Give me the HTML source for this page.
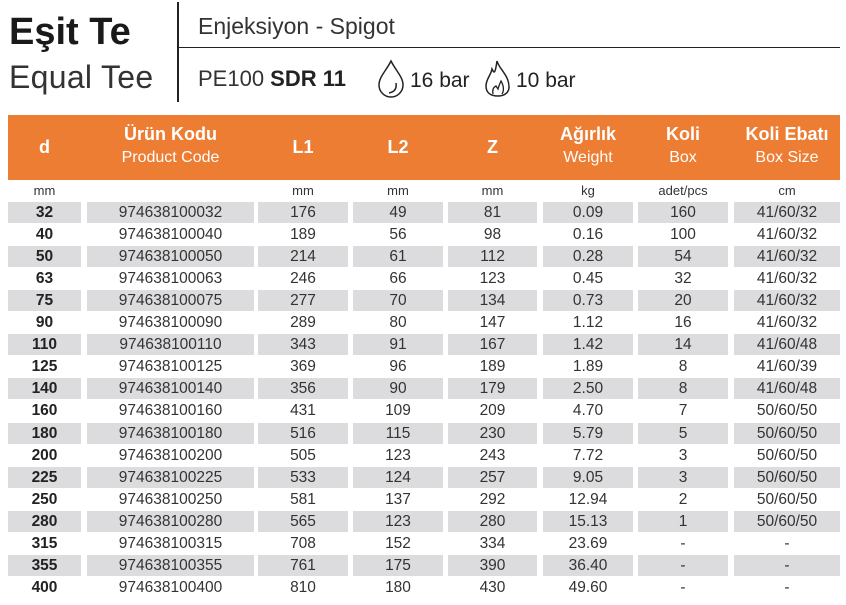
<!DOCTYPE html>
<html><head><meta charset="utf-8"><style>
*{margin:0;padding:0;box-sizing:border-box}
body{width:846px;height:605px;background:#fff;position:relative;overflow:hidden;font-family:"Liberation Sans",sans-serif;color:#222}
.a{position:absolute;white-space:nowrap}
.hdr{position:absolute;left:8px;top:115px;width:832px;height:65px;background:#ED7D33}
.h{position:absolute;text-align:center;color:#fff}
.h b{display:block;font-size:18px;line-height:20px}
.h span{display:block;font-size:16px;line-height:28px}
.row{position:absolute;left:0;width:846px;height:21px}
.row div{position:absolute;top:0;height:21px;line-height:22px;text-align:center;font-size:15.5px;color:#333}
.g div{background:#DCDCDE}
.c0{left:8px;width:73px;font-weight:bold;color:#222!important}
.c1{left:87px;width:167px}
.c2{left:258px;width:90px}
.c3{left:353px;width:90px}
.c4{left:448px;width:89px}
.c5{left:543px;width:90px}
.c6{left:638px;width:90px}
.c7{left:734px;width:106px}
.u div{background:none!important;font-size:13px;font-weight:normal!important;color:#333!important}
</style></head><body>
<div class="a" style="left:9px;top:11px;font-size:38px;font-weight:bold;color:#1a1a1a">Eşit Te</div>
<div class="a" style="left:9px;top:59px;font-size:32px;color:#333;letter-spacing:0.3px">Equal Tee</div>
<div class="a" style="left:177px;top:2px;width:1.5px;height:100px;background:#222"></div>
<div class="a" style="left:178px;top:47px;width:662px;height:1px;background:#222"></div>
<div class="a" style="left:198px;top:13px;font-size:23px;color:#333">Enjeksiyon - Spigot</div>
<div class="a" style="left:198px;top:66px;font-size:22px;color:#333">PE100 <b style="color:#222">SDR 11</b></div>
<svg class="a" style="left:376px;top:59px" width="32" height="40" viewBox="0 0 32 40"><path d="M15 2 C10 12 3 18 3 26 A12 12 0 0 0 27 26 C27 18 20 12 15 2Z" fill="none" stroke="#222" stroke-width="1.5"/><path d="M20 24 C21 30 18 33 13 34" fill="none" stroke="#222" stroke-width="1.5"/></svg>
<div class="a" style="left:410px;top:69px;font-size:21px;color:#222">16 bar</div>
<svg class="a" style="left:483px;top:59px" width="32" height="40" viewBox="0 0 32 40"><path d="M14 2 C16 10 26 16 26 28 C26 34 21 37 15 37 C8 37 3 34 3 27 C3 20 8 16 9 10 C11 14 12 16 14 2Z" fill="none" stroke="#222" stroke-width="1.5"/><path d="M10 35 C9 30 11 28 13 27 L15 30 C16 26 17 24 18 22 C21 27 21 32 19 35" fill="none" stroke="#222" stroke-width="1.3"/></svg>
<div class="a" style="left:516px;top:69px;font-size:21px;color:#222">10 bar</div>

<div class="hdr"></div>
<div class="h" style="left:8px;width:73px;top:137px"><b>d</b></div>
<div class="h" style="left:87px;width:167px;top:124px"><b>Ürün Kodu</b><span>Product Code</span></div>
<div class="h" style="left:258px;width:90px;top:137px"><b>L1</b></div>
<div class="h" style="left:353px;width:90px;top:137px"><b>L2</b></div>
<div class="h" style="left:448px;width:89px;top:137px"><b>Z</b></div>
<div class="h" style="left:543px;width:90px;top:124px"><b>Ağırlık</b><span>Weight</span></div>
<div class="h" style="left:638px;width:90px;top:124px"><b>Koli</b><span>Box</span></div>
<div class="h" style="left:734px;width:106px;top:124px"><b>Koli Ebatı</b><span>Box Size</span></div>

<div class="row u" style="top:180px"><div class="c0">mm</div><div class="c2">mm</div><div class="c3">mm</div><div class="c4">mm</div><div class="c5">kg</div><div class="c6">adet/pcs</div><div class="c7">cm</div></div>

<div class="row g" style="top:202px"><div class="c0">32</div><div class="c1">974638100032</div><div class="c2">176</div><div class="c3">49</div><div class="c4">81</div><div class="c5">0.09</div><div class="c6">160</div><div class="c7">41/60/32</div></div>
<div class="row" style="top:224px"><div class="c0">40</div><div class="c1">974638100040</div><div class="c2">189</div><div class="c3">56</div><div class="c4">98</div><div class="c5">0.16</div><div class="c6">100</div><div class="c7">41/60/32</div></div>
<div class="row g" style="top:246px"><div class="c0">50</div><div class="c1">974638100050</div><div class="c2">214</div><div class="c3">61</div><div class="c4">112</div><div class="c5">0.28</div><div class="c6">54</div><div class="c7">41/60/32</div></div>
<div class="row" style="top:268px"><div class="c0">63</div><div class="c1">974638100063</div><div class="c2">246</div><div class="c3">66</div><div class="c4">123</div><div class="c5">0.45</div><div class="c6">32</div><div class="c7">41/60/32</div></div>
<div class="row g" style="top:290px"><div class="c0">75</div><div class="c1">974638100075</div><div class="c2">277</div><div class="c3">70</div><div class="c4">134</div><div class="c5">0.73</div><div class="c6">20</div><div class="c7">41/60/32</div></div>
<div class="row" style="top:312px"><div class="c0">90</div><div class="c1">974638100090</div><div class="c2">289</div><div class="c3">80</div><div class="c4">147</div><div class="c5">1.12</div><div class="c6">16</div><div class="c7">41/60/32</div></div>
<div class="row g" style="top:334px"><div class="c0">110</div><div class="c1">974638100110</div><div class="c2">343</div><div class="c3">91</div><div class="c4">167</div><div class="c5">1.42</div><div class="c6">14</div><div class="c7">41/60/48</div></div>
<div class="row" style="top:356px"><div class="c0">125</div><div class="c1">974638100125</div><div class="c2">369</div><div class="c3">96</div><div class="c4">189</div><div class="c5">1.89</div><div class="c6">8</div><div class="c7">41/60/39</div></div>
<div class="row g" style="top:378px"><div class="c0">140</div><div class="c1">974638100140</div><div class="c2">356</div><div class="c3">90</div><div class="c4">179</div><div class="c5">2.50</div><div class="c6">8</div><div class="c7">41/60/48</div></div>
<div class="row" style="top:400px"><div class="c0">160</div><div class="c1">974638100160</div><div class="c2">431</div><div class="c3">109</div><div class="c4">209</div><div class="c5">4.70</div><div class="c6">7</div><div class="c7">50/60/50</div></div>
<div class="row g" style="top:423px"><div class="c0">180</div><div class="c1">974638100180</div><div class="c2">516</div><div class="c3">115</div><div class="c4">230</div><div class="c5">5.79</div><div class="c6">5</div><div class="c7">50/60/50</div></div>
<div class="row" style="top:445px"><div class="c0">200</div><div class="c1">974638100200</div><div class="c2">505</div><div class="c3">123</div><div class="c4">243</div><div class="c5">7.72</div><div class="c6">3</div><div class="c7">50/60/50</div></div>
<div class="row g" style="top:467px"><div class="c0">225</div><div class="c1">974638100225</div><div class="c2">533</div><div class="c3">124</div><div class="c4">257</div><div class="c5">9.05</div><div class="c6">3</div><div class="c7">50/60/50</div></div>
<div class="row" style="top:489px"><div class="c0">250</div><div class="c1">974638100250</div><div class="c2">581</div><div class="c3">137</div><div class="c4">292</div><div class="c5">12.94</div><div class="c6">2</div><div class="c7">50/60/50</div></div>
<div class="row g" style="top:511px"><div class="c0">280</div><div class="c1">974638100280</div><div class="c2">565</div><div class="c3">123</div><div class="c4">280</div><div class="c5">15.13</div><div class="c6">1</div><div class="c7">50/60/50</div></div>
<div class="row" style="top:533px"><div class="c0">315</div><div class="c1">974638100315</div><div class="c2">708</div><div class="c3">152</div><div class="c4">334</div><div class="c5">23.69</div><div class="c6">-</div><div class="c7">-</div></div>
<div class="row g" style="top:555px"><div class="c0">355</div><div class="c1">974638100355</div><div class="c2">761</div><div class="c3">175</div><div class="c4">390</div><div class="c5">36.40</div><div class="c6">-</div><div class="c7">-</div></div>
<div class="row" style="top:577px"><div class="c0">400</div><div class="c1">974638100400</div><div class="c2">810</div><div class="c3">180</div><div class="c4">430</div><div class="c5">49.60</div><div class="c6">-</div><div class="c7">-</div></div>
</body></html>
